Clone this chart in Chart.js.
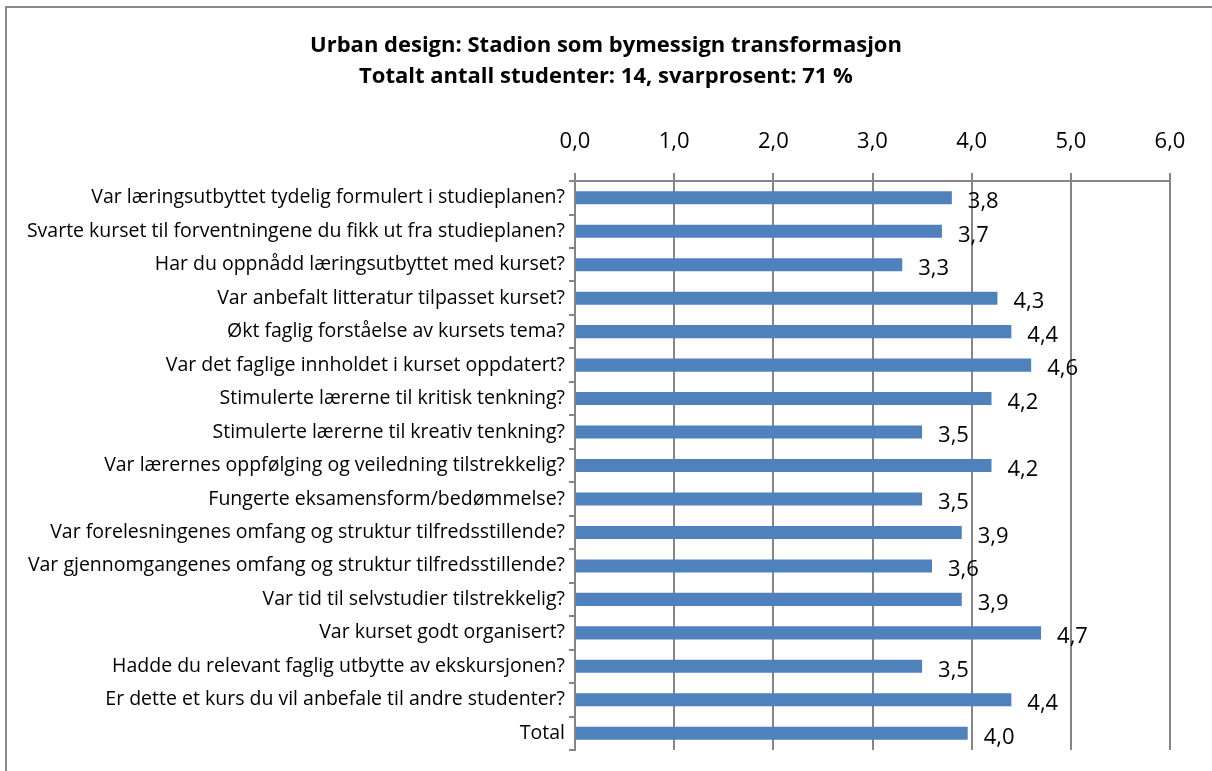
<!DOCTYPE html>
<html>
<head>
<meta charset="utf-8">
<script src="https://cdn.jsdelivr.net/npm/chart.js@4.4.1/dist/chart.umd.min.js"></script>
<style>
html,body{margin:0;padding:0;background:#fff;}
#wrap{width:1212px;height:771px;position:relative;}
</style>
</head>
<body>
<div id="wrap"><canvas id="c" width="1212" height="771"></canvas></div>
<script>
const titleLines = ["Urban design: Stadion som bymessign transformasjon", "Totalt antall studenter: 14, svarprosent: 71 %"];
const categories = [
  "Var læringsutbyttet tydelig formulert i studieplanen?",
  "Svarte kurset til forventningene du fikk ut fra studieplanen?",
  "Har du oppnådd læringsutbyttet med kurset?",
  "Var anbefalt litteratur tilpasset kurset?",
  "Økt faglig forståelse av kursets tema?",
  "Var det faglige innholdet i kurset oppdatert?",
  "Stimulerte lærerne til kritisk tenkning?",
  "Stimulerte lærerne til kreativ tenkning?",
  "Var lærernes oppfølging og veiledning tilstrekkelig?",
  "Fungerte eksamensform/bedømmelse?",
  "Var forelesningenes omfang og struktur tilfredsstillende?",
  "Var gjennomgangenes omfang og struktur tilfredsstillende?",
  "Var tid til selvstudier tilstrekkelig?",
  "Var kurset godt organisert?",
  "Hadde du relevant faglig utbytte av ekskursjonen?",
  "Er dette et kurs du vil anbefale til andre studenter?",
  "Total"
];
const scores = [3.8, 3.7, 3.3, 4.26, 4.4, 4.6, 4.2, 3.5, 4.2, 3.5, 3.9, 3.6, 3.9, 4.7, 3.5, 4.4, 3.96];
const axisMin = 0, axisMax = 6, axisStep = 1;

const FONT = "'Open Sans', 'DejaVu Sans', sans-serif";
const fmt = v => Number(v).toFixed(1).replace('.', ',');

const frame = {
  id: 'frame',
  beforeDraw(chart) {
    const ctx = chart.ctx;
    ctx.save();
    ctx.fillStyle = '#ffffff';
    ctx.fillRect(0, 0, chart.width, chart.height);
    ctx.strokeStyle = '#8a8a8a';
    ctx.lineWidth = 2;
    ctx.strokeRect(6, 7, 1230, 800);
    ctx.restore();
  }
};

const valueLabels = {
  id: 'valueLabels',
  afterDatasetsDraw(chart) {
    const ctx = chart.ctx;
    const meta = chart.getDatasetMeta(0);
    ctx.save();
    ctx.font = "22px " + FONT;
    ctx.fillStyle = '#000';
    ctx.textAlign = 'left';
    ctx.textBaseline = 'middle';
    meta.data.forEach((bar, i) => {
      ctx.fillText(fmt(scores[i]), bar.x + 16, bar.y + 4);
    });
    ctx.restore();
  }
};

new Chart(document.getElementById('c'), {
  type: 'bar',
  data: {
    labels: categories,
    datasets: [{
      data: scores,
      backgroundColor: '#4F81BD',
      borderWidth: 0,
      barPercentage: 0.39,
      categoryPercentage: 1.0
    }]
  },
  options: {
    indexAxis: 'y',
    responsive: false,
    animation: false,
    devicePixelRatio: 1,
    layout: { padding: { left: 0, right: 0, top: 0, bottom: 21 } },
    plugins: {
      legend: { display: false },
      tooltip: { enabled: false },
      title: {
        display: true,
        text: titleLines,
        color: '#000',
        font: { family: FONT, size: 22, weight: 'bold', lineHeight: 1.41 },
        padding: { top: 30, bottom: 0 }
      }
    },
    scales: {
      x: {
        position: 'top',
        min: axisMin, max: axisMax,
        ticks: {
          stepSize: axisStep,
          callback: v => fmt(v),
          color: '#000',
          font: { family: FONT, size: 22 },
          padding: 18,
          maxRotation: 0
        },
        grid: { color: '#868686', lineWidth: 2, tickLength: 8, drawTicks: true },
        border: { display: true, color: '#868686', width: 2 },
        afterFit: s => { s.height = 89; }
      },
      y: {
        ticks: {
          color: '#000',
          font: { family: FONT, size: 19.5 },
          padding: 4,
          autoSkip: false
        },
        grid: { display: true, drawOnChartArea: false, drawTicks: true, tickLength: 6, color: '#868686', lineWidth: 2, offset: true },
        border: { display: true, color: '#868686', width: 2 },
        afterFit: s => { s.width = 575; }
      },
      yRight: {
        type: 'category',
        position: 'right',
        display: true,
        ticks: { display: false },
        grid: { display: false, drawTicks: false },
        border: { display: false },
        afterFit: s => { s.width = 42; }
      }
    }
  },
  plugins: [frame, valueLabels]
});
</script>
</body>
</html>
